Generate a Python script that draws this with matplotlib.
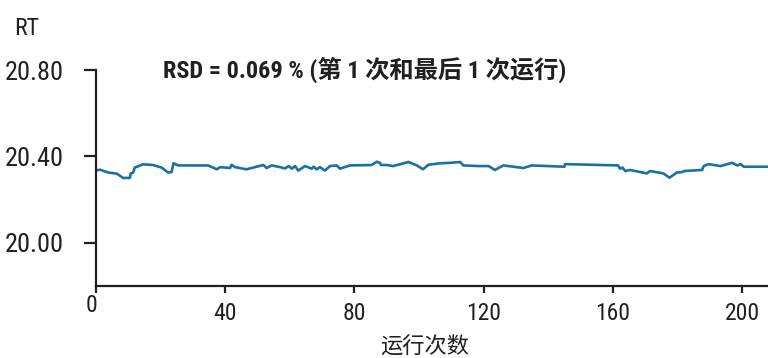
import matplotlib
matplotlib.use("Agg")
import matplotlib.pyplot as plt
import matplotlib.transforms as mtransforms

# run number vs retention time
runs = [0, 1.3, 3.8, 6.4, 8.4, 10.5, 10.7, 11.5, 12, 14.5, 17.6, 20.3, 22.3, 23.4, 24, 25.4,
        34.7, 37.4, 38.4, 41.5, 42, 43, 46.6, 49.7, 51.8, 52.8, 54.4, 57, 58.5, 59.6, 60.6,
        61.6, 62.6, 64.7, 66.8, 67.3, 68.3, 69.3, 70.9, 72.4, 74.5, 75.5, 78.6, 85.3, 86.9,
        87.9, 88.2, 90, 92, 96.7, 99.3, 101.2, 102.9, 106.5, 109.6, 112.7, 113.7, 118.7,
        121.5, 123.5, 126.1, 132.3, 134.9, 145.0, 145.2, 161.6, 162.2, 163, 163.8, 165.3,
        170.5, 171.5, 175.6, 177.5, 179.8, 181.4, 182, 187.6, 188.1, 189.6, 193.3, 196.9,
        198.5, 199.5, 200.5, 208]
rt = [20.335, 20.338, 20.325, 20.320, 20.300, 20.300, 20.320, 20.325, 20.348, 20.363,
      20.360, 20.348, 20.325, 20.327, 20.368, 20.358, 20.358, 20.340, 20.350, 20.346,
      20.361, 20.350, 20.340, 20.352, 20.360, 20.346, 20.358, 20.350, 20.344, 20.355,
      20.343, 20.355, 20.334, 20.355, 20.343, 20.352, 20.340, 20.350, 20.334, 20.355,
      20.358, 20.343, 20.358, 20.360, 20.375, 20.370, 20.360, 20.360, 20.355, 20.374,
      20.358, 20.340, 20.361, 20.368, 20.370, 20.374, 20.358, 20.355, 20.355, 20.337,
      20.358, 20.346, 20.358, 20.352, 20.364, 20.358, 20.343, 20.348, 20.332, 20.337,
      20.321, 20.332, 20.321, 20.301, 20.325, 20.327, 20.332, 20.337, 20.355, 20.364,
      20.355, 20.370, 20.358, 20.364, 20.352, 20.352]

xticks = [0, 40, 80, 120, 160, 200]
yticks = [20.00, 20.40, 20.80]

plt.rcParams['font.family'] = ['Roboto Condensed', 'Noto Sans CJK SC', 'DejaVu Sans']

ink = '#231f20'
fig = plt.figure(figsize=(7.68, 3.58), dpi=100)
ax = fig.add_axes([0.125, 0.202, 0.875, 0.602])
ax.plot(runs, rt, color='#1a72a3', lw=1.9)

ax.set_xlim(0, 208)
ax.set_ylim(19.8, 20.8)
ax.set_xticks(xticks)
ax.set_yticks(yticks)
ax.set_yticklabels(['%.2f' % v for v in yticks])
for s in ['top', 'right']:
    ax.spines[s].set_visible(False)
for s in ['left', 'bottom']:
    ax.spines[s].set_linewidth(1.6)
    ax.spines[s].set_color(ink)
ax.tick_params(axis='y', length=9, width=1.6, pad=14, labelsize=19, colors=ink)
ax.tick_params(axis='x', length=5, width=1.6, pad=7, labelsize=17, colors=ink)

# the "0" label sits a bit higher than the others in the original
lab0 = ax.get_xticklabels()[0]
lab0.set_transform(lab0.get_transform() + mtransforms.ScaledTranslation(-3 / 72, 6 / 72, fig.dpi_scale_trans))

fig.text(0.018, 0.92, 'RT', fontsize=17, color=ink, va='center')
fig.text(0.553, 0.03, '运行次数', fontsize=16, color=ink, ha='center', va='center',
         family=['Noto Sans CJK SC'])
ax.text(0.1, 1.0, 'RSD = 0.069 % (第 1 次和最后 1 次运行)', transform=ax.transAxes,
        fontsize=17.5, fontweight='bold', color=ink, va='center', ha='left')

fig.savefig('out.png', dpi=100)
